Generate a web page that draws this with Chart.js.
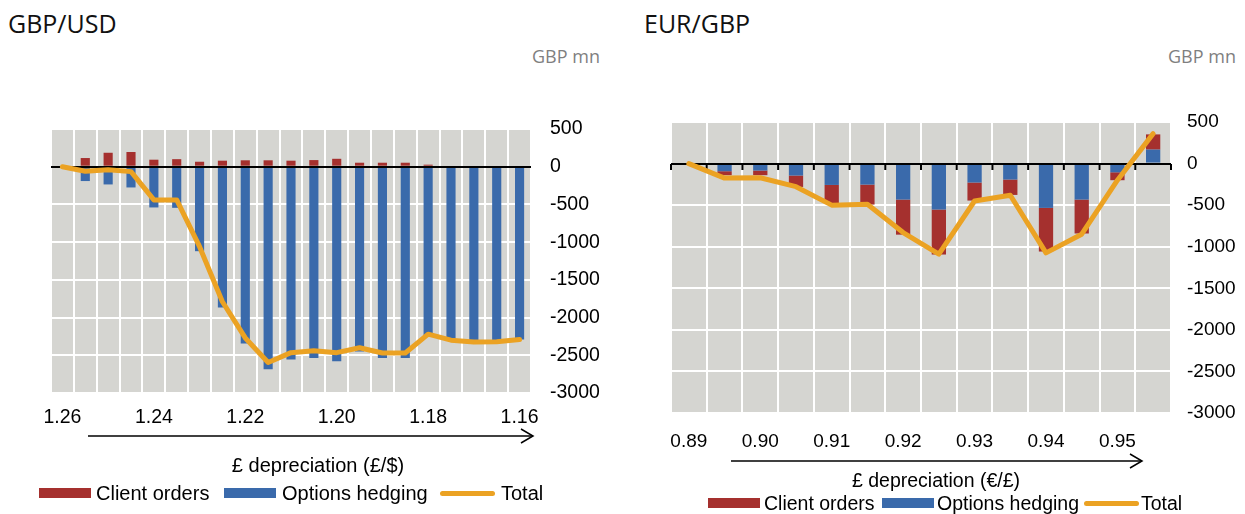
<!DOCTYPE html>
<html>
<head>
<meta charset="utf-8">
<script src="https://cdn.jsdelivr.net/npm/chart.js@4/dist/chart.umd.min.js"></script>
<style>
  body { margin: 0; width: 1245px; height: 514px; background: #fff; position: relative; overflow: hidden; }
  .abs { position: absolute; }
  .title { font-family: 'Open Sans', sans-serif; font-size: 25px; color: #111; top: 6px; }
  .unit { font-family: 'Open Sans', sans-serif; font-size: 18px; color: #7f7f7f; top: 44px; }
  .axis-title { font-family: 'Liberation Sans', Arial, sans-serif; color: #000; white-space: nowrap; transform: translateX(-50%); }
  .lg { position: absolute; font-family: 'Liberation Sans', Arial, sans-serif; color: #000; white-space: nowrap; line-height: 1; }
  .sw { position: absolute; width: 52px; height: 10px; }
  .ln { position: absolute; width: 55px; height: 5px; border-radius: 3px; }
  canvas { position: absolute; }
</style>
</head>
<body>
<div class="abs title" style="left:8px">GBP/USD</div>
<div class="abs unit" style="left:532px">GBP mn</div>
<div class="abs title" style="left:644px">EUR/GBP</div>
<div class="abs unit" style="left:1168px">GBP mn</div>

<canvas id="usd-chart" width="610" height="320" style="left:0;top:110px"></canvas>
<canvas id="eur-chart" width="605" height="350" style="left:640px;top:100px"></canvas>

<svg class="abs" style="left:0;top:0" width="1245" height="514">
  <g stroke="#000" stroke-width="1.5" fill="none">
    <line x1="88" y1="436" x2="533" y2="436"/>
    <polyline points="521,429 533,436 521,443"/>
    <line x1="731" y1="461" x2="1142" y2="461"/>
    <polyline points="1130,454 1142,461 1130,468"/>
  </g>
</svg>

<div class="abs axis-title" style="left:318px;top:454px;font-size:20px">£ depreciation (£/$)</div>
<div class="abs axis-title" style="left:936px;top:469px;font-size:19.5px">£ depreciation (€/£)</div>

<!-- legends -->
<div class="sw" style="left:39px;top:488px;background:#a5302e"></div>
<div class="lg" style="left:96px;top:483px;font-size:20px">Client orders</div>
<div class="sw" style="left:224px;top:488px;background:#3a6aab"></div>
<div class="lg" style="left:282px;top:483px;font-size:20px">Options hedging</div>
<div class="ln" style="left:440px;top:491px;background:#eba223"></div>
<div class="lg" style="left:501px;top:483px;font-size:20px">Total</div>

<div class="sw" style="left:708px;top:498px;background:#a5302e"></div>
<div class="lg" style="left:764px;top:494px;font-size:19.5px">Client orders</div>
<div class="sw" style="left:882px;top:498px;background:#3a6aab"></div>
<div class="lg" style="left:937px;top:494px;font-size:19.5px">Options hedging</div>
<div class="ln" style="left:1084px;top:501px;background:#eba223"></div>
<div class="lg" style="left:1141px;top:494px;font-size:19.5px">Total</div>

<script>
// GBP/USD: £/$ rate, GBP mn
const usdRates = ['1.26','1.255','1.25','1.245','1.24','1.235','1.23','1.225','1.22','1.215','1.21',
  '1.205','1.20','1.195','1.19','1.185','1.18','1.175','1.17','1.165','1.16'];
const usdTicks = ['1.26','1.24','1.22','1.20','1.18','1.16'];
const usdClient = [0, 115, 185, 195, 93, 100, 66, 80, 85, 85, 80, 88, 105, 53, 53, 53, 27, 0, 0, 0, 0];
const usdOptions = [0, -190, -235, -275, -540, -545, -1120, -1865, -2345, -2685, -2555, -2537, -2580,
  -2450, -2537, -2537, -2250, -2300, -2325, -2320, -2290];
const usdTotal = [0, -60, -40, -65, -440, -440, -1060, -1790, -2270, -2595, -2465, -2440, -2465,
  -2400, -2470, -2470, -2220, -2300, -2325, -2320, -2290];

// EUR/GBP: €/£ rate, GBP mn
const eurRates = ['0.89','0.895','0.90','0.905','0.91','0.915','0.92','0.925','0.93','0.935','0.94',
  '0.945','0.95','0.955'];
const eurTicks = ['0.89','0.90','0.91','0.92','0.93','0.94','0.95'];
const eurClient = [0, -48, -56, -137, -224, -240, -422, -541, -217, -185, -525, -408, -95, 183];
const eurOptions = [0, -92, -84, -144, -257, -253, -433, -553, -228, -192, -533, -433, -105, 168];
const eurTotal = [0, -175, -170, -278, -500, -490, -830, -1090, -450, -381, -1074, -850, -200, 360];

const yMin = -3000, yMax = 500, yStep = 500;

const colors = { client: '#a5302e', options: '#3a6aab', total: '#eba223', plot: '#d5d5d1' };

// grey plot area, black zero line (optionally with small tick marks)
function plotDecor(zeroTicks) {
  return {
    id: 'plotDecor',
    beforeDraw(chart) {
      const a = chart.chartArea, ctx = chart.ctx;
      ctx.save();
      ctx.fillStyle = colors.plot;
      ctx.fillRect(a.left, a.top, a.right - a.left, a.bottom - a.top);
      ctx.restore();
    },
    beforeDatasetDraw(chart, args) {
      if (args.meta.type !== 'line') return;
      const a = chart.chartArea, ctx = chart.ctx;
      const y0 = Math.round(chart.scales.y.getPixelForValue(0));
      ctx.save();
      ctx.strokeStyle = '#000';
      ctx.lineWidth = 2;
      ctx.beginPath();
      ctx.moveTo(a.left, y0);
      ctx.lineTo(a.right, y0);
      if (zeroTicks) {
        const x = chart.scales.x, n = chart.data.labels.length;
        for (let i = 0; i <= n; i++) {
          let px;
          if (i === 0) px = a.left;
          else if (i === n) px = a.right;
          else px = (x.getPixelForValue(i - 1) + x.getPixelForValue(i)) / 2;
          ctx.moveTo(px, y0);
          ctx.lineTo(px, y0 + 6);
        }
      }
      ctx.stroke();
      ctx.restore();
    }
  };
}

function createChart(id, labels, tickLabels, client, options, total, cfg) {
  const ctx = document.getElementById(id).getContext('2d');
  const tickFont = { family: "'Liberation Sans', Arial, sans-serif", size: cfg.fontSize };
  return new Chart(ctx, {
    type: 'bar',
    data: {
      labels: labels,
      datasets: [
        { type: 'line', label: 'Total', data: total, stack: 'total', order: 0,
          borderColor: colors.total, borderWidth: 5, pointRadius: 0, tension: 0,
          borderCapStyle: 'round', borderJoinStyle: 'round', fill: false },
        { label: 'Options hedging', data: options, backgroundColor: colors.options, order: 1,
          stack: 'flows', barPercentage: 0.4, categoryPercentage: 1 },
        { label: 'Client orders', data: client, backgroundColor: colors.client, order: 1,
          stack: 'flows', barPercentage: 0.4, categoryPercentage: 1 }
      ]
    },
    options: {
      responsive: false,
      animation: false,
      layout: { padding: cfg.pad },
      plugins: { legend: { display: false }, tooltip: { enabled: false } },
      scales: {
        x: {
          stacked: true,
          grid: { color: '#fff', lineWidth: 2, drawTicks: false, offset: true },
          border: { display: false },
          ticks: {
            color: '#000', font: tickFont, padding: cfg.xPad, autoSkip: false, maxRotation: 0,
            callback(value) {
              const lab = this.getLabelForValue(value);
              return tickLabels.includes(lab) ? lab : '';
            }
          },
          afterFit(scale) {
            scale.height = cfg.xHeight;
            scale.paddingLeft = 0;
            scale.paddingRight = 0;
          }
        },
        y: {
          position: 'right',
          stacked: true,
          min: yMin, max: yMax,
          grid: { color: '#fff', lineWidth: 2, drawTicks: false },
          border: { display: false },
          ticks: { stepSize: yStep, color: '#000', font: tickFont, padding: cfg.yPad,
            callback: v => String(v) },
          afterFit(scale) {
            scale.width = cfg.yWidth;
            scale.paddingTop = 0;
            scale.paddingBottom = 0;
          }
        }
      }
    },
    plugins: [plotDecor(cfg.zeroTicks)]
  });
}

createChart('usd-chart', usdRates, usdTicks, usdClient, usdOptions, usdTotal,
  { pad: { left: 51, top: 19, right: 0, bottom: 0 }, yWidth: 79, yPad: 19, xHeight: 37, xPad: 13,
    fontSize: 19.5, zeroTicks: false });
createChart('eur-chart', eurRates, eurTicks, eurClient, eurOptions, eurTotal,
  { pad: { left: 31, top: 22, right: 0, bottom: 0 }, yWidth: 74, yPad: 16, xHeight: 37, xPad: 17,
    fontSize: 19, zeroTicks: true });
</script>
</body>
</html>
